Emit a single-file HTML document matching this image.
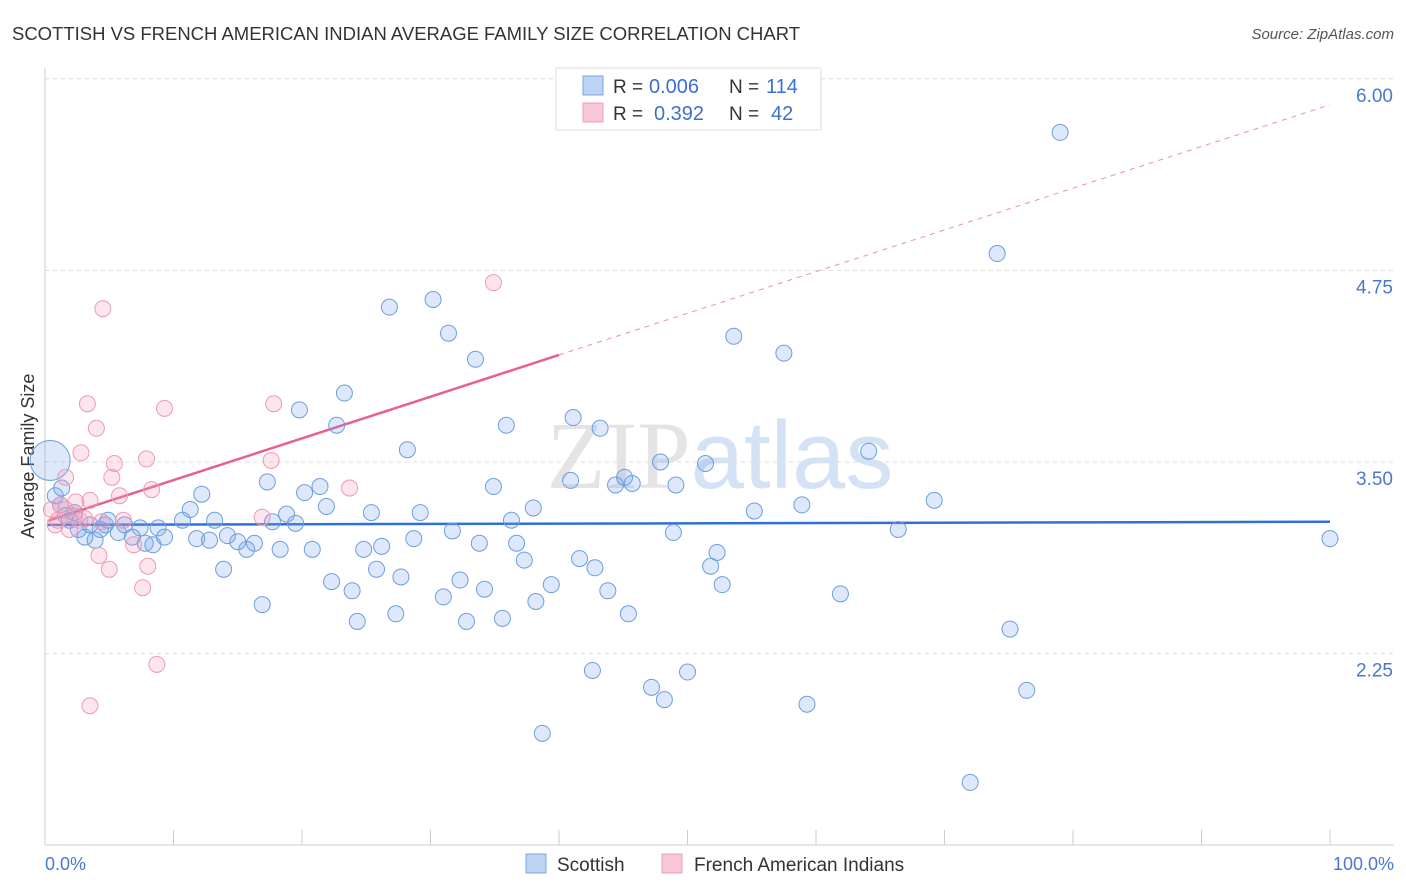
<!DOCTYPE html>
<html><head><meta charset="utf-8"><style>
body{margin:0;background:#fff;font-family:"Liberation Sans",sans-serif;}
svg{display:block}
</style></head><body>
<svg width="1406" height="892">
<text x="12" y="40" font-size="18" fill="#333" textLength="788" lengthAdjust="spacingAndGlyphs">SCOTTISH VS FRENCH AMERICAN INDIAN AVERAGE FAMILY SIZE CORRELATION CHART</text>
<text x="1394" y="39" font-size="15" fill="#555" font-style="italic" text-anchor="end">Source: ZipAtlas.com</text>
<text x="720" y="488" font-size="96" fill="#e4e4e4" text-anchor="middle" font-family="Liberation Serif,serif">ZIP<tspan fill="#d3e2f4" font-family="Liberation Sans,sans-serif">atlas</tspan></text>
<g id="grid"></g>
<line x1="45" y1="68" x2="45" y2="845" stroke="#ccc"/>
<line x1="45" y1="845" x2="1394" y2="845" stroke="#ccc"/>
<g id="xticks"></g>
<text x="45" y="870" font-size="18" fill="#4a78d0">0.0%</text>
<text x="1394" y="870" font-size="18" fill="#4a78d0" text-anchor="end">100.0%</text>
<text x="34" y="456" font-size="18" fill="#333" text-anchor="middle" transform="rotate(-90 34 456)">Average Family Size</text>
<g id="lines"></g>
<g id="pts"></g>
<g>
<rect x="556" y="68" width="265" height="62" fill="#fff" stroke="#ddd"/>
<rect x="583" y="76" width="20" height="19" fill="#bcd3f3" stroke="#7aa4e0"/>
<rect x="583" y="103" width="20" height="19" fill="#f8c6d6" stroke="#eda0b9"/>
<text x="613" y="93" font-size="19" fill="#333">R =</text>
<text x="649" y="93" font-size="20" fill="#3b6fd4">0.006</text>
<text x="729" y="93" font-size="19" fill="#333">N =</text>
<text x="766" y="93" font-size="20" fill="#3b6fd4">114</text>
<text x="613" y="120" font-size="19" fill="#333">R =</text>
<text x="654" y="120" font-size="20" fill="#3b6fd4">0.392</text>
<text x="729" y="120" font-size="19" fill="#333">N =</text>
<text x="771" y="120" font-size="20" fill="#3b6fd4">42</text>
</g>
<g>
<rect x="526" y="854" width="20" height="19" fill="#bcd3f3" stroke="#7aa4e0"/>
<text x="557" y="871" font-size="19" fill="#333">Scottish</text>
<rect x="662" y="854" width="20" height="19" fill="#f8c6d6" stroke="#eda0b9"/>
<text x="694" y="871" font-size="19" fill="#333">French American Indians</text>
</g>
</svg>
<script>
const yTicks=[2.25,3.5,4.75,6.0];
const blueX=[79.0,74.1,26.8,30.2,31.4,33.5,53.6,57.5,23.3,19.8,22.7,35.9,41.1,43.2,28.2,47.9,51.4,64.1,40.9,44.4,45.1,45.7,49.1,34.9,17.3,21.4,20.2,12.2,69.2,11.3,21.9,38.0,55.2,58.9,25.4,29.2,18.8,10.7,13.2,17.7,19.5,36.3,8.8,5.7,6.8,7.8,9.3,11.8,12.8,14.2,15.0,16.3,15.7,18.3,20.8,24.8,26.2,28.7,31.7,33.8,36.7,37.3,41.6,42.8,48.9,52.3,51.8,66.4,100,13.9,22.3,25.8,27.7,32.3,39.4,23.9,31.0,34.2,38.2,43.8,52.7,61.9,16.9,24.3,27.3,32.8,35.6,45.4,75.1,42.6,50.0,47.2,48.2,59.3,76.4,38.7,72.0,6.2,4.3,4.9,3.1,2.6,3.9,1.9,1.2,0.8,1.6,2.3,3.5,0.4,1.3,4.7,7.4,8.4];
const blueY=[5.65,4.86,4.51,4.56,4.34,4.17,4.32,4.21,3.95,3.84,3.74,3.74,3.79,3.72,3.58,3.50,3.49,3.57,3.38,3.35,3.40,3.36,3.35,3.34,3.37,3.34,3.30,3.29,3.25,3.19,3.21,3.20,3.18,3.22,3.17,3.17,3.16,3.12,3.12,3.11,3.10,3.12,3.07,3.04,3.01,2.97,3.01,3.00,2.99,3.02,2.98,2.97,2.93,2.93,2.93,2.93,2.95,3.00,3.05,2.97,2.97,2.86,2.87,2.81,3.04,2.91,2.82,3.06,3.00,2.80,2.72,2.80,2.75,2.73,2.70,2.66,2.62,2.67,2.59,2.66,2.70,2.64,2.57,2.46,2.51,2.46,2.48,2.51,2.41,2.14,2.13,2.03,1.95,1.92,2.01,1.73,1.41,3.09,3.06,3.12,3.01,3.06,2.99,3.12,3.22,3.28,3.15,3.17,3.09,3.51,3.33,3.09,3.07,2.96];
const pinkX=[4.5,34.9,3.3,9.3,17.8,4.0,2.8,7.9,5.4,17.6,5.2,1.6,8.3,23.7,5.8,3.5,2.4,1.2,6.1,16.9,4.4,0.8,1.9,4.2,5.0,8.0,6.9,7.6,8.7,3.5,1.6,2.7,2.3,0.5,1.0,3.1];
const pinkY=[4.50,4.67,3.88,3.85,3.88,3.72,3.56,3.52,3.49,3.51,3.40,3.40,3.32,3.33,3.28,3.25,3.24,3.22,3.12,3.14,3.11,3.09,3.06,2.89,2.80,2.82,2.96,2.68,2.18,1.91,3.19,3.12,3.15,3.19,3.12,3.13];
const blueFit=[3.09,3.11];
const pinkFit=[3.11,5.83];
const NS="http://www.w3.org/2000/svg";
const xs=v=>45+v*12.85, ys=v=>462-(v-3.5)*153.3;
function mk(t,a,p){const e=document.createElementNS(NS,t);for(const k in a)e.setAttribute(k,a[k]);document.getElementById(p).appendChild(e);return e;}
yTicks.forEach(t=>{
 const l=mk('line',{x1:45,x2:1394,y1:ys(t),y2:ys(t),stroke:'#ddd','stroke-dasharray':'4,4'},'grid');
 
 
 const tx=mk('text',{x:1393,y:ys(t)+23,'font-size':19,fill:'#4a78d0','text-anchor':'end'},'grid');
 tx.textContent=t.toFixed(2);
 
 
});
for(let i=0;i<=10;i++){
 const l=mk('line',{x1:xs(i*10),x2:xs(i*10),y1:830,y2:845,stroke:'#ccc'},'xticks');
 
 
}
blueX.forEach((x,i)=>{
 const big=(x===0.4&&blueY[i]===3.51);
 const c=mk('circle',{cx:xs(x),cy:ys(blueY[i]),r:big?20:8,fill:'rgba(120,165,235,0.25)',stroke:'#6d9de0','stroke-width':1},'pts');
 
 
});
pinkX.forEach((x,i)=>{
 const c=mk('circle',{cx:xs(x),cy:ys(pinkY[i]),r:8,fill:'rgba(244,150,180,0.25)',stroke:'#eb9ab6','stroke-width':1},'pts');
 
 
});
const pAt=x=>pinkFit[0]+(pinkFit[1]-pinkFit[0])*x/100;
let l=mk('line',{x1:xs(0.2),y1:ys(pAt(0.2)),x2:xs(40),y2:ys(pAt(40)),stroke:'#e8608e','stroke-width':2.5},'lines');


l=mk('line',{x1:xs(40),y1:ys(pAt(40)),x2:xs(100),y2:ys(pAt(100)),stroke:'#eb8fae','stroke-width':1,'stroke-dasharray':'5,5'},'lines');


l=mk('line',{x1:xs(0.2),y1:ys(blueFit[0]),x2:xs(100),y2:ys(blueFit[1]),stroke:'#2f6fd6','stroke-width':2.5},'lines');


</script>
</body></html>
